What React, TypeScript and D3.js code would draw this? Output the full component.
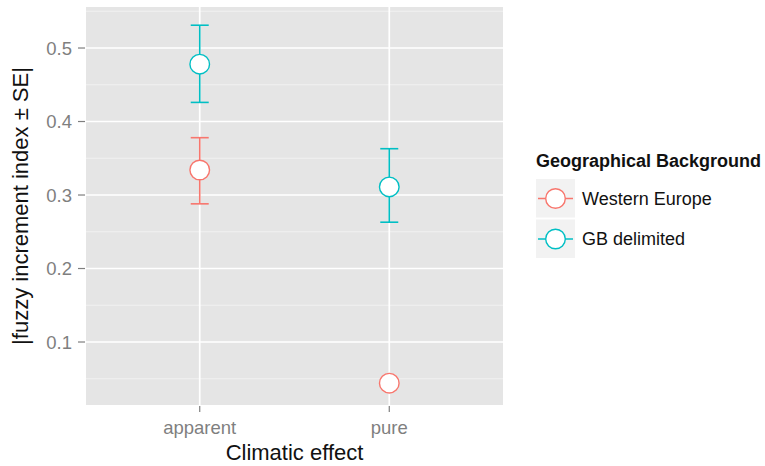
import React from 'react';
import * as d3 from 'd3';

// values
const effects = ['apparent', 'pure'];
const groups = ['Western Europe', 'GB delimited'];
const groupColors = ['#F8766D', '#00BFC4'];
const westernEurope = [
  { effect: 'apparent', mean: 0.334, lo: 0.288, hi: 0.378 },
  { effect: 'pure', mean: 0.044, lo: null, hi: null },
];
const gbDelimited = [
  { effect: 'apparent', mean: 0.478, lo: 0.426, hi: 0.531 },
  { effect: 'pure', mean: 0.311, lo: 0.263, hi: 0.363 },
];
const yTicks = [0.1, 0.2, 0.3, 0.4, 0.5];
const yMinor = [0.05, 0.15, 0.25, 0.35, 0.45, 0.55];

const W = 765;
const H = 466;
const panel = { left: 86, top: 7, right: 503, bottom: 405 };

const App = () => {
  const y = d3.scaleLinear().domain([0.0143, 0.5558]).range([panel.bottom, panel.top]);
  // ggplot expands a discrete axis by 0.6 units on each side
  const xs = d3.scaleLinear().domain([0.4, 2.6]).range([panel.left, panel.right]);
  const xPos = (e: string) => xs(effects.indexOf(e) + 1);

  const series = [westernEurope, gbDelimited];
  const font = 'Arial, "Liberation Sans", sans-serif';
  const legendX = 536;

  return (
    <svg width={W} height={H} style={{ position: 'absolute', left: 0, top: 0 }} fontFamily={font}>
      <rect width={W} height={H} fill="#fff" />
      <rect
        x={panel.left}
        y={panel.top}
        width={panel.right - panel.left}
        height={panel.bottom - panel.top}
        fill="#E5E5E5"
      />
      {yMinor.filter((v) => y(v) > panel.top && y(v) < panel.bottom).map((v) => (
        <line key={'m' + v} x1={panel.left} x2={panel.right} y1={y(v)} y2={y(v)} stroke="#F2F2F2" strokeWidth={0.9} />
      ))}
      {yTicks.map((v) => (
        <line key={'g' + v} x1={panel.left} x2={panel.right} y1={y(v)} y2={y(v)} stroke="#fff" strokeWidth={1.7} />
      ))}
      {effects.map((e) => (
        <line key={'gx' + e} x1={xPos(e)} x2={xPos(e)} y1={panel.top} y2={panel.bottom} stroke="#fff" strokeWidth={1.7} />
      ))}

      {/* y axis */}
      {yTicks.map((v) => (
        <g key={'t' + v}>
          <line x1={panel.left - 8} x2={panel.left - 1} y1={y(v)} y2={y(v)} stroke="#7F7F7F" strokeWidth={1.2} />
          <text x={panel.left - 14} y={y(v)} dy="0.36em" textAnchor="end" fontSize={18.5} fill="#7F7F7F">
            {d3.format('.1f')(v)}
          </text>
        </g>
      ))}
      {/* x axis */}
      {effects.map((e) => (
        <g key={'tx' + e}>
          <line x1={xPos(e)} x2={xPos(e)} y1={panel.bottom + 1} y2={panel.bottom + 7} stroke="#7F7F7F" strokeWidth={1.2} />
          <text x={xPos(e)} y={434} textAnchor="middle" fontSize={18.5} fill="#7F7F7F">
            {e}
          </text>
        </g>
      ))}
      <text x={(panel.left + panel.right) / 2} y={460} textAnchor="middle" fontSize={22} fill="#111">
        Climatic effect
      </text>
      <text
        transform={`translate(28, ${(panel.top + panel.bottom) / 2}) rotate(-90)`}
        textAnchor="middle"
        fontSize={22}
        fill="#111"
      >
        |fuzzy increment index ± SE|
      </text>

      {/* error bars and points */}
      {series.map((s, gi) => (
        <g key={'s' + gi} stroke={groupColors[gi]} strokeWidth={1.6}>
          {s.map((d) => (
            <g key={d.effect}>
              {d.lo !== null && d.hi !== null && (
                <>
                  <line x1={xPos(d.effect)} x2={xPos(d.effect)} y1={y(d.lo)} y2={y(d.hi)} />
                  <line x1={xPos(d.effect) - 9} x2={xPos(d.effect) + 9} y1={y(d.lo)} y2={y(d.lo)} />
                  <line x1={xPos(d.effect) - 9} x2={xPos(d.effect) + 9} y1={y(d.hi)} y2={y(d.hi)} />
                </>
              )}
              <circle cx={xPos(d.effect)} cy={y(d.mean)} r={9.8} fill="#fff" strokeWidth={1.4} />
            </g>
          ))}
        </g>
      ))}

      {/* legend */}
      <text x={legendX} y={167} fontSize={18} fontWeight="bold" fill="#111">
        Geographical Background
      </text>
      {groups.map((g, i) => {
        const top = 179 + i * 40.5;
        const cy = top + 19.5;
        return (
          <g key={g}>
            <rect x={legendX} y={top} width={39} height={38.5} fill="#F2F2F2" />
            <line x1={legendX + 2} x2={legendX + 37} y1={cy} y2={cy} stroke={groupColors[i]} strokeWidth={1.6} />
            <circle cx={legendX + 19.5} cy={cy} r={9.8} fill="#fff" stroke={groupColors[i]} strokeWidth={1.4} />
            <text x={legendX + 46} y={cy} dy="0.36em" fontSize={18} fill="#111">
              {g}
            </text>
          </g>
        );
      })}
    </svg>
  );
};

export default App;
